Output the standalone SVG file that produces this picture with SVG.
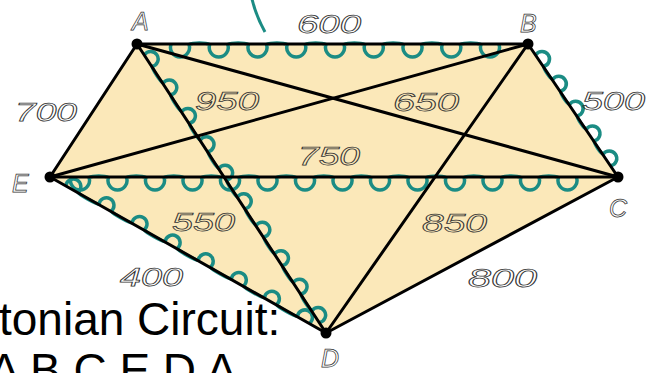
<svg xmlns="http://www.w3.org/2000/svg" width="647" height="373" viewBox="0 0 647 373">
<style>
.edge{stroke:#000;stroke-width:3;stroke-linecap:round}
.wave{fill:none;stroke:#1B8C84;stroke-width:3.5;stroke-linejoin:round}
.lbl{font-family:"Liberation Sans",Arial,sans-serif;font-style:italic;font-size:25px;fill:none;stroke:#333;stroke-width:0.75}
.big{font-family:"Liberation Sans",Arial,sans-serif;font-size:46px;fill:#000}
.dot{fill:#000}
</style>
<rect width="647" height="373" fill="#fff"/>
<polygon points="137,44 528,44 618,177 326,333 50,177" fill="#FBE8B9"/>
<path d="M252,-1 Q256,16 265,32" fill="none" stroke="#1B8C84" stroke-width="3"/>
<g id="circuit">
<path class="wave" transform="translate(137,44)" d="M34,0.5 a9.5,9.5 0 1 0 18,0 c4,-2 16.75,-2 20.75,0 a9.5,9.5 0 1 0 18,0 c4,-2 16.75,-2 20.75,0 a9.5,9.5 0 1 0 18,0 c4,-2 16.75,-2 20.75,0 a9.5,9.5 0 1 0 18,0 c4,-2 16.75,-2 20.75,0 a9.5,9.5 0 1 0 18,0 c4,-2 16.75,-2 20.75,0 a9.5,9.5 0 1 0 18,0 c4,-2 16.75,-2 20.75,0 a9.5,9.5 0 1 0 18,0 c4,-2 16.75,-2 20.75,0 a9.5,9.5 0 1 0 18,0 c4,-2 16.75,-2 20.75,0 a9.5,9.5 0 1 0 18,0"/>
<path class="wave" transform="translate(50,177)" d="M21,0.5 a9.5,9.5 0 1 0 18,0 c4,-2 15.5,-2 19.5,0 a9.5,9.5 0 1 0 18,0 c4,-2 15.5,-2 19.5,0 a9.5,9.5 0 1 0 18,0 c4,-2 15.5,-2 19.5,0 a9.5,9.5 0 1 0 18,0 c4,-2 15.5,-2 19.5,0 a9.5,9.5 0 1 0 18,0 c4,-2 15.5,-2 19.5,0 a9.5,9.5 0 1 0 18,0 c4,-2 15.5,-2 19.5,0 a9.5,9.5 0 1 0 18,0 c4,-2 15.5,-2 19.5,0 a9.5,9.5 0 1 0 18,0 c4,-2 15.5,-2 19.5,0 a9.5,9.5 0 1 0 18,0 c4,-2 15.5,-2 19.5,0 a9.5,9.5 0 1 0 18,0 c4,-2 15.5,-2 19.5,0 a9.5,9.5 0 1 0 18,0 c4,-2 15.5,-2 19.5,0 a9.5,9.5 0 1 0 18,0 c4,-2 15.5,-2 19.5,0 a9.5,9.5 0 1 0 18,0 c4,-2 15.5,-2 19.5,0 a9.5,9.5 0 1 0 18,0"/>
<path class="wave" transform="translate(618,177) rotate(-124.09)" d="M13.3,0.5 a7.5,7.5 0 1 0 14,0 c3,-1.6 13,-1.6 16,0 a7.5,7.5 0 1 0 14,0 c3,-1.6 13,-1.6 16,0 a7.5,7.5 0 1 0 14,0 c3,-1.6 13,-1.6 16,0 a7.5,7.5 0 1 0 14,0 c3,-1.6 13,-1.6 16,0 a7.5,7.5 0 1 0 14,0"/>
<path class="wave" transform="translate(326,333) rotate(-123.18)" d="M12.3,0.5 a7.5,7.5 0 1 0 14,0 c3,-1.6 17,-1.6 20,0 a7.5,7.5 0 1 0 14,0 c3,-1.6 17,-1.6 20,0 a7.5,7.5 0 1 0 14,0 c3,-1.6 17,-1.6 20,0 a7.5,7.5 0 1 0 14,0 c3,-1.6 17,-1.6 20,0 a7.5,7.5 0 1 0 14,0 c3,-1.6 17,-1.6 20,0 a7.5,7.5 0 1 0 14,0 c3,-1.6 17,-1.6 20,0 a7.5,7.5 0 1 0 14,0 c3,-1.6 17,-1.6 20,0 a7.5,7.5 0 1 0 14,0 c3,-1.6 17,-1.6 20,0 a7.5,7.5 0 1 0 14,0 c3,-1.6 17,-1.6 20,0 a7.5,7.5 0 1 0 14,0"/>
<path class="wave" transform="translate(326,333) rotate(-150.53)" d="M19,0.5 a7.5,7.5 0 1 0 14,0 c3,-1.6 21,-1.6 24,0 a7.5,7.5 0 1 0 14,0 c3,-1.6 21,-1.6 24,0 a7.5,7.5 0 1 0 14,0 c3,-1.6 21,-1.6 24,0 a7.5,7.5 0 1 0 14,0 c3,-1.6 21,-1.6 24,0 a7.5,7.5 0 1 0 14,0 c3,-1.6 21,-1.6 24,0 a7.5,7.5 0 1 0 14,0 c3,-1.6 21,-1.6 24,0 a7.5,7.5 0 1 0 14,0 c3,-1.6 21,-1.6 24,0 a7.5,7.5 0 1 0 14,0"/>
</g>
<g id="connectors">
<line class="edge" x1="137" y1="44" x2="528" y2="44"/>
<line class="edge" x1="528" y1="44" x2="618" y2="177"/>
<line class="edge" x1="618" y1="177" x2="326" y2="333"/>
<line class="edge" x1="326" y1="333" x2="50" y2="177"/>
<line class="edge" x1="50" y1="177" x2="137" y2="44"/>
<line class="edge" x1="137" y1="44" x2="618" y2="177"/>
<line class="edge" x1="137" y1="44" x2="326" y2="333"/>
<line class="edge" x1="528" y1="44" x2="50" y2="177"/>
<line class="edge" x1="528" y1="44" x2="326" y2="333"/>
<line class="edge" x1="50" y1="177" x2="618" y2="177"/>
</g>
<g id="weights">
<text class="lbl" x="297" y="33" textLength="64" lengthAdjust="spacingAndGlyphs">600</text>
<text class="lbl" x="195" y="110" textLength="64" lengthAdjust="spacingAndGlyphs">950</text>
<text class="lbl" x="393" y="111" textLength="66" lengthAdjust="spacingAndGlyphs">650</text>
<text class="lbl" x="582" y="110" textLength="63" lengthAdjust="spacingAndGlyphs">500</text>
<text class="lbl" x="15" y="121" textLength="62" lengthAdjust="spacingAndGlyphs">700</text>
<text class="lbl" x="298" y="165" textLength="62" lengthAdjust="spacingAndGlyphs">750</text>
<text class="lbl" x="172" y="231" textLength="63" lengthAdjust="spacingAndGlyphs">550</text>
<text class="lbl" x="120" y="286" textLength="63" lengthAdjust="spacingAndGlyphs">400</text>
<text class="lbl" x="422" y="232" textLength="65" lengthAdjust="spacingAndGlyphs">850</text>
<text class="lbl" x="468" y="287" textLength="69" lengthAdjust="spacingAndGlyphs">800</text>
</g>
<g id="node-A"><circle class="dot" cx="137" cy="44" r="5.5"/><text class="lbl" x="132" y="30">A</text></g>
<g id="node-B"><circle class="dot" cx="528" cy="44" r="5.5"/><text class="lbl" x="520" y="32">B</text></g>
<g id="node-C"><circle class="dot" cx="618" cy="177" r="5.5"/><text class="lbl" x="609" y="217">C</text></g>
<g id="node-D"><circle class="dot" cx="326" cy="333" r="5.5"/><text class="lbl" x="321" y="367">D</text></g>
<g id="node-E"><circle class="dot" cx="50" cy="177" r="5.5"/><text class="lbl" x="12" y="192">E</text></g>
<g id="caption">
<text class="big" x="-1" y="335">tonian Circuit:</text>
<text class="big" x="-11" y="386">A B C E D A</text>
</g>
</svg>
